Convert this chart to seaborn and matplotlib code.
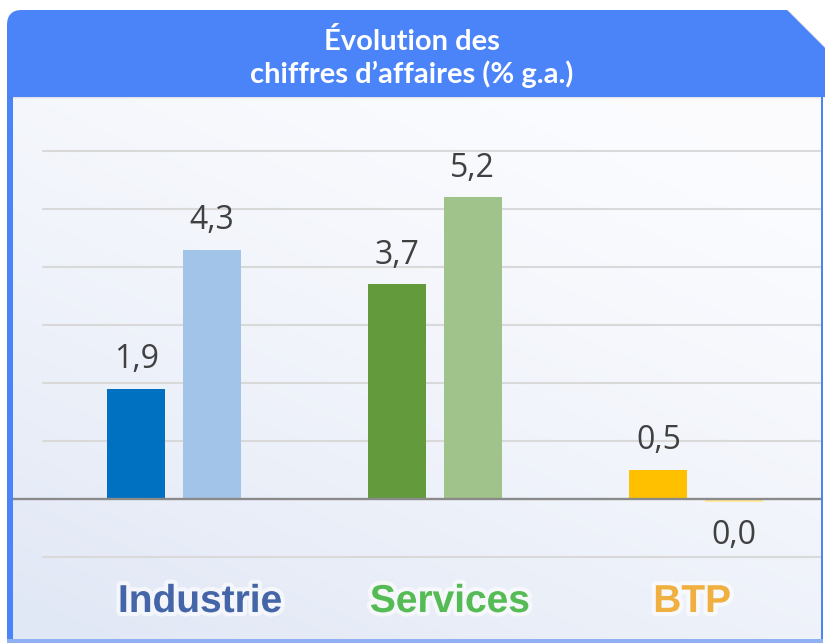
import matplotlib
matplotlib.use("Agg")
from matplotlib import pyplot as plt
from matplotlib.path import Path
from matplotlib.patches import PathPatch, Rectangle
import matplotlib.patheffects as pe
import numpy as np
import pandas as pd
import seaborn as sns

# data
secteurs = ["Industrie", "Services", "BTP"]
serie_1 = [1.9, 3.7, 0.5]
serie_2 = [4.3, 5.2, -0.049]
series = ["s1", "s2"]
couleurs_1 = ["#0070C0", "#629A3C", "#FFC000"]
couleurs_2 = ["#A2C4E8", "#A0C28B", "#FFE699"]
couleurs_cat = ["#4466A8", "#55BB55", "#F0B040"]
decalage_cat = [0.10, 0.057, -0.015]  # label shift from group centre
grille = [-1, 1, 2, 3, 4, 5, 6]
titre = "Évolution des\nchiffres d\u2019affaires (% g.a.)"

df = pd.DataFrame({
    "secteur": secteurs * 2,
    "valeur": serie_1 + serie_2,
    "serie": [series[0]] * 3 + [series[1]] * 3,
})

sns.set_style("white")

W, H = 825, 643
fig = plt.figure(figsize=(8.25, 6.43), dpi=100)
fig.patch.set_facecolor("white")


def fx(x):
    return x / W


def fy(y):
    return 1 - y / H


blue = "#4A84F8"


# header with shadow
def header_path(dx=0, dy=0):
    pts = [(7, 97), (7, 25), (7, 10), (22, 10), (787, 10), (825, 48), (825, 97), (7, 97)]
    codes = [Path.MOVETO, Path.LINETO, Path.CURVE3, Path.CURVE3,
             Path.LINETO, Path.LINETO, Path.LINETO, Path.CLOSEPOLY]
    return Path([(fx(x + dx), fy(y + dy)) for x, y in pts], codes)


# plot area
ax = fig.add_axes([fx(13), fy(640), fx(822) - fx(13), (640 - 97) / H])

grad = np.linspace(0, 1, 200)
gx, gy = np.meshgrid(grad, grad)
t = np.clip(0.7 * (1 - gy) + 0.45 * (1 - gx) - 0.1, 0, 1) ** 1.3
c0 = np.array([0.985, 0.988, 0.998])
c1 = np.array([0.885, 0.91, 0.962])
img = c0 + (c1 - c0) * t[..., None]
ax.imshow(img, extent=[0, 1, 0, 1], transform=ax.transAxes, aspect="auto",
          origin="lower", zorder=0)

for g in grille:
    ax.axhline(g, xmin=(43 - 13) / 809, xmax=1, color="#D9D9D9", lw=1.5, zorder=1)
ax.axhline(0, color="#8A8A8A", lw=1.7, zorder=3)

sns.barplot(data=df, x="secteur", y="valeur", hue="serie", order=secteurs,
            width=0.575, gap=0.227, palette=["#888888", "#bbbbbb"],
            legend=False, ax=ax, zorder=2, errorbar=None)

ax.set_xlim(-(174 - 13) / 261, (822 - 174) / 261)
ax.set_ylim((499 - 640) / 58, (499 - 97) / 58)

for cont, cols in zip(ax.containers, [couleurs_1, couleurs_2]):
    for bar, c in zip(cont, cols):
        bar.set_facecolor(c)
        bar.set_edgecolor("none")
        v = bar.get_height()
        xc = bar.get_x() + bar.get_width() / 2
        txt = f"{abs(v):.1f}".replace(".", ",")
        if v >= 0:
            ax.annotate(txt, (xc, v), xytext=(0, 15), textcoords="offset points",
                        ha="center", va="baseline", fontsize=23, color="#404040",
                        family="Open Sans", zorder=5)
        else:
            ax.annotate(txt, (xc, v), xytext=(0, -12), textcoords="offset points",
                        ha="center", va="top", fontsize=23, color="#404040",
                        family="Open Sans", zorder=5)

for i, (s, c, d) in enumerate(zip(secteurs, couleurs_cat, decalage_cat)):
    ax.text(i + d, (499 - 602) / 58, s, ha="center", va="center", fontsize=28,
            fontweight="bold", family="Liberation Sans", color=c, zorder=5,
            path_effects=[pe.withStroke(linewidth=6, foreground="white", alpha=0.6)])

ax.set_xlabel("")
ax.set_ylabel("")
ax.set_xticks([])
ax.set_yticks([])
for sp in ax.spines.values():
    sp.set_visible(False)

# header drawn above the axes
for i, a in enumerate([0.05, 0.07, 0.09]):
    fig.patches.append(PathPatch(header_path(3 - i, 2 - i), transform=fig.transFigure,
                                 facecolor="#555555", edgecolor="none", alpha=a,
                                 linewidth=0, zorder=5))
fig.patches.append(PathPatch(header_path(), transform=fig.transFigure,
                             facecolor=blue, edgecolor="none", zorder=6))
fig.text(fx(412), fy(58), titre, color="white", ha="center", va="center",
         fontsize=21, fontweight="bold", family="Lato", linespacing=1.2, zorder=7)

# frame borders
fig.patches.append(Rectangle((fx(7), fy(643)), fx(6), fy(97) - fy(643),
                             transform=fig.transFigure, facecolor=blue, edgecolor="none"))
fig.patches.append(Rectangle((fx(821), fy(643)), fx(2), fy(97) - fy(643),
                             transform=fig.transFigure, facecolor=blue, edgecolor="none"))
fig.patches.append(Rectangle((fx(7), fy(643)), fx(816), fy(639) - fy(643),
                             transform=fig.transFigure, facecolor="#8FB0F2", edgecolor="none"))

fig.savefig("out.png", dpi=100)
